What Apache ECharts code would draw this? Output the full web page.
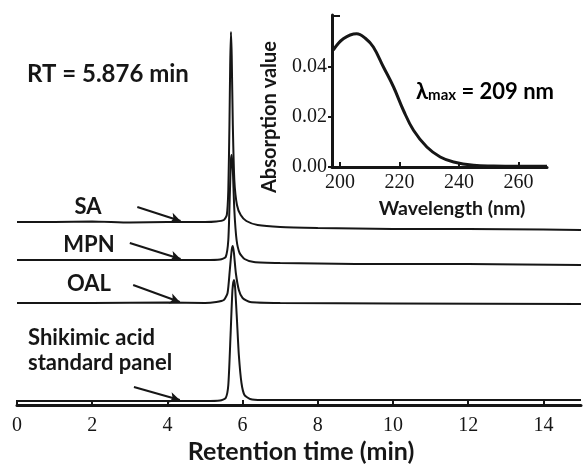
<!DOCTYPE html>
<html>
<head>
<meta charset="utf-8">
<script src="https://cdn.jsdelivr.net/npm/echarts@6/dist/echarts.min.js"></script>
<style>html,body{margin:0;padding:0;background:#fff}#c{width:583px;height:466px}</style>
</head>
<body>
<div id="c"></div>
<script>
// Retention time (min) vs stacked detector signal (px-like units)
const saTrace = [[0,183],[1,183],[2,183.5],[3,182.5],[4,183],[4.5,183],[5,183],[5.3,183.5],[5.5,185],[5.58,190],[5.62,215],[5.65,280],[5.67,340],[5.69,373],[5.71,350],[5.74,280],[5.78,225],[5.85,200],[5.95,190],[6.1,184],[6.4,180],[7,178],[8,177],[9,176.5],[10,176],[12,176],[14,175.5],[15,175]];
const mpnTrace = [[0,145],[2,145],[4,145],[5,145],[5.4,145.5],[5.55,148],[5.62,165],[5.66,210],[5.69,245],[5.71,250],[5.74,235],[5.78,195],[5.84,165],[5.92,152],[6.05,146],[6.3,143],[7,142],[9,141],[12,141],[15,140]];
const oalTrace = [[0,102],[2,102],[4,102.5],[5,102],[5.3,103],[5.5,105],[5.6,112],[5.66,135],[5.71,155],[5.74,159],[5.77,152],[5.82,132],[5.9,115],[6.0,107],[6.2,103],[7,102],[10,101.5],[15,101]];
const stdTrace = [[0,4],[2,4],[4,4],[5,4],[5.4,4.5],[5.55,7],[5.62,20],[5.68,70],[5.73,115],[5.77,125],[5.8,118],[5.85,85],[5.9,50],[5.97,22],[6.05,10],[6.2,6],[6.5,5],[7,5],[10,5],[15,5]];
const rtTicks = [0,2,4,6,8,10,12,14];
// UV spectrum inset
const uvSpectrum = [[197.7,0.0467],[201.1,0.0513],[205.6,0.0533],[208.5,0.0515],[211.2,0.048],[214.6,0.040],[218.0,0.032],[221.3,0.0227],[224.7,0.0147],[229.2,0.008],[233.7,0.004],[238.2,0.002],[244.9,0.0007],[251.6,0.0004],[260,0.0003],[269.6,0.0003]];
const wlTicks = [200,220,240,260];
const absTicks = [0,0.02,0.04];

const BOLD = 'Lato, "Open Sans", sans-serif';
const SERIF = '"Liberation Serif", "DejaVu Serif", serif';
const ink = '#161616';

function trace(name, data, arrow) {
  return {
    name, type: 'line', data, xAxisIndex: 0, yAxisIndex: 0,
    showSymbol: false, smooth: 0.2,
    lineStyle: {color: ink, width: 2},
    markLine: {
      silent: true, symbol: ['none','arrow'], symbolSize: [8,10],
      label: {show: false},
      lineStyle: {color: ink, width: 2, type: 'solid'},
      data: [[{coord: arrow[0]}, {coord: arrow[1]}]]
    }
  };
}

const chart = echarts.init(document.getElementById('c'), null, {renderer: 'canvas'});
chart.setOption({
  animation: false,
  backgroundColor: '#fff',
  grid: [
    {left: 17, right: 2, top: 25, bottom: 61},
    {left: 332, top: 15, width: 215, height: 152}
  ],
  xAxis: [
    {type: 'value', gridIndex: 0, min: 0, max: 15,
     axisLine: {lineStyle: {color: ink, width: 3}},
     axisTick: {inside: true, length: 5, lineStyle: {color: ink, width: 2}, customValues: rtTicks},
     axisLabel: {customValues: rtTicks, color: ink, fontFamily: SERIF, fontSize: 20, margin: 11},
     splitLine: {show: false}},
    {type: 'value', gridIndex: 1, min: 197.3, max: 269.6,
     axisLine: {lineStyle: {color: ink, width: 3}},
     axisTick: {inside: true, length: 5, lineStyle: {color: ink, width: 2}, customValues: wlTicks},
     axisLabel: {customValues: wlTicks, color: ink, fontFamily: SERIF, fontSize: 20, margin: 6},
     splitLine: {show: false}}
  ],
  yAxis: [
    {type: 'value', gridIndex: 0, min: 0, max: 380, show: false},
    {type: 'value', gridIndex: 1, min: 0, max: 0.0608,
     axisLine: {show: true, lineStyle: {color: ink, width: 3}},
     axisTick: {show: true, length: 4, lineStyle: {color: ink, width: 2}, customValues: absTicks},
     axisLabel: {customValues: absTicks, color: ink, fontFamily: SERIF, fontSize: 20, margin: 5,
                 formatter: v => v.toFixed(2)},
     splitLine: {show: false}}
  ],
  series: [
    trace('SA', saTrace, [[3.2,198],[4.35,184]]),
    trace('MPN', mpnTrace, [[3.0,162],[4.35,146]]),
    trace('OAL', oalTrace, [[3.09,120],[4.33,103]]),
    trace('Shikimic acid standard panel', stdTrace, [[3.11,18],[4.33,5]]),
    {name: 'UV spectrum', type: 'line', xAxisIndex: 1, yAxisIndex: 1, data: uvSpectrum,
     showSymbol: false, smooth: 0.4, lineStyle: {color: ink, width: 3}}
  ],
  graphic: [
    {type: 'line', shape: {x1: 332, y1: 16, x2: 340, y2: 16}, style: {stroke: ink, lineWidth: 2}},
    {type: 'text', left: 27, top: 62, style: {text: 'RT = 5.876 min', font: 'bold 24px ' + BOLD, fill: ink}},
    {type: 'text', x: 88, y: 207, style: {text: 'SA', font: 'bold 22px ' + BOLD, fill: ink, align: 'center', verticalAlign: 'middle'}},
    {type: 'text', x: 89, y: 245, style: {text: 'MPN', font: 'bold 22px ' + BOLD, fill: ink, align: 'center', verticalAlign: 'middle'}},
    {type: 'text', x: 89, y: 284, style: {text: 'OAL', font: 'bold 22px ' + BOLD, fill: ink, align: 'center', verticalAlign: 'middle'}},
    {type: 'text', left: 28, top: 325, style: {text: 'Shikimic acid\nstandard panel', font: 'bold 22px ' + BOLD, lineHeight: 25, fill: ink}},
    {type: 'text', x: 301, y: 452, style: {text: 'Retention time (min)', font: 'bold 25px ' + BOLD, fill: ink, align: 'center', verticalAlign: 'middle'}},
    {type: 'text', x: 452, y: 209, style: {text: 'Wavelength (nm)', font: 'bold 19.5px ' + BOLD, fill: ink, align: 'center', verticalAlign: 'middle'}},
    {type: 'text', x: 270, y: 117, rotation: Math.PI / 2, style: {text: 'Absorption value', font: 'bold 20px ' + BOLD, fill: ink, align: 'center', verticalAlign: 'middle'}},
    {type: 'text', left: 416, top: 81, style: {
      text: '{a|λ}{b|max}{a| = 209 nm}',
      rich: {a: {font: 'bold 22px ' + BOLD, color: ink}, b: {font: 'bold 15px ' + BOLD, color: ink, verticalAlign: 'bottom'}}
    }}
  ]
});
</script>
</body>
</html>
